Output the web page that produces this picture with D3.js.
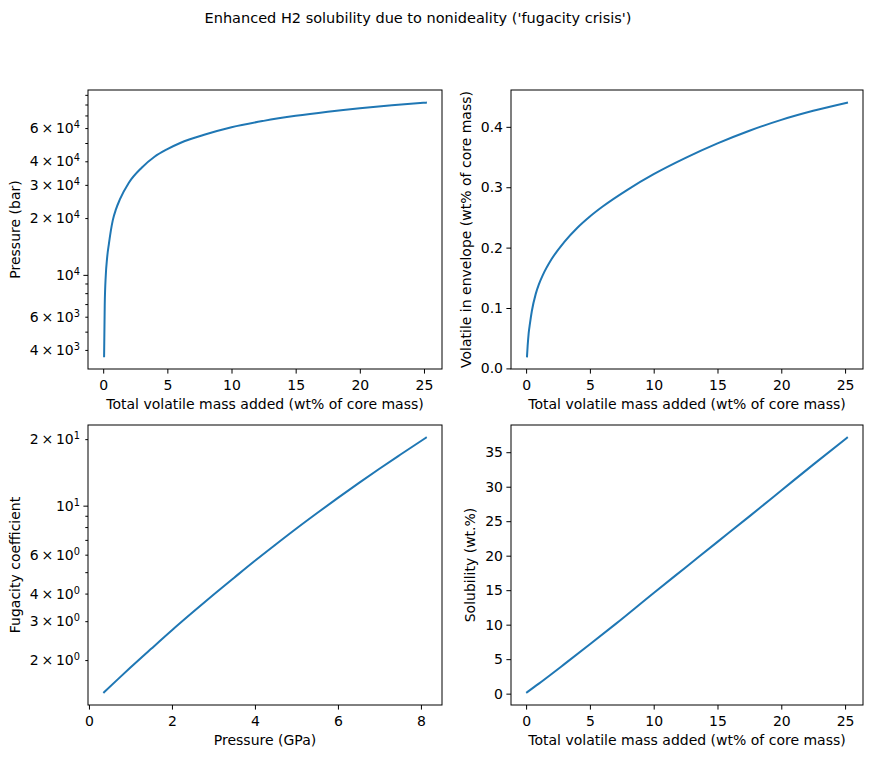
<!DOCTYPE html>
<html>
<head>
<meta charset="utf-8">
<script src="https://cdn.jsdelivr.net/npm/d3@7"></script>
<style>
  html, body { margin: 0; padding: 0; background: #fff; }
  svg { display: block; font-family: "DejaVu Sans", sans-serif; }
</style>
</head>
<body>
<svg id="chart" width="873" height="759"></svg>
<script>
// values
const addedMass = [0.07, 0.12, 0.2, 0.3, 0.45, 0.75, 1, 1.3, 2, 3, 4, 5, 6, 8, 10, 12.5, 15, 17.5, 20, 22.5, 25.15];
const pressureBar = [3700, 6900, 9900, 12200, 14700, 19500, 22300, 25100, 30800, 37000, 42300, 46400, 50000, 55600, 60600, 65500, 69700, 73300, 76500, 79300, 81800];
const envelopeMass = [0.02, 0.037, 0.058, 0.074, 0.095, 0.123, 0.139, 0.154, 0.181, 0.2095, 0.2325, 0.2515, 0.268, 0.2965, 0.3215, 0.3485, 0.3725, 0.3935, 0.4115, 0.4265, 0.44];

const pressureGPa = [0.365, 0.7, 1.0, 1.5, 2.0, 2.5, 3.0, 3.5, 4.0, 4.5, 5.0, 5.5, 6.0, 6.5, 7.0, 7.5, 8.12];
const fugacityCoef = [1.43, 1.64, 1.85, 2.25, 2.73, 3.29, 3.95, 4.72, 5.63, 6.67, 7.88, 9.26, 10.85, 12.65, 14.7, 17.0, 20.3];

const solubilityMass = [0.07, 1, 2, 3, 5, 7, 10, 12.5, 15, 17.5, 20, 22.5, 25.15];
const solubility = [0.2, 1.45, 2.85, 4.28, 7.16, 10.08, 14.6, 18.3, 22.0, 25.7, 29.45, 33.2, 37.1];

const massTicks = [0, 5, 10, 15, 20, 25];
const gpaTicks = [0, 2, 4, 6, 8];
const pressureTicks = [4000, 6000, 10000, 20000, 30000, 40000, 60000];
const envelopeTicks = [0, 0.1, 0.2, 0.3, 0.4];
const fugacityTicks = [2, 3, 4, 6, 10, 20];
const solubilityTicks = [0, 5, 10, 15, 20, 25, 30, 35];

const massLabel = "Total volatile mass added (wt% of core mass)";
const title = "Enhanced H2 solubility due to nonideality ('fugacity crisis')";

const svg = d3.select("#chart");
const fontSize = 14;
const lineColor = "#1f77b4";

const panels = [
  { box: [88, 90, 442, 369], xs: addedMass, ys: pressureBar, logY: true,
    xTicks: massTicks, yTicks: pressureTicks, xLabel: massLabel, yLabel: "Pressure (bar)" },
  { box: [511, 90, 863, 369], xs: addedMass, ys: envelopeMass, logY: false,
    xTicks: massTicks, yTicks: envelopeTicks, xLabel: massLabel, yLabel: "Volatile in envelope (wt% of core mass)", yFmt: d3.format(".1f") },
  { box: [88, 425, 442, 705], xs: pressureGPa, ys: fugacityCoef, logY: true,
    xTicks: gpaTicks, yTicks: fugacityTicks, xLabel: "Pressure (GPa)", yLabel: "Fugacity coefficient" },
  { box: [511, 425, 863, 705], xs: solubilityMass, ys: solubility, logY: false,
    xTicks: massTicks, yTicks: solubilityTicks, xLabel: massLabel, yLabel: "Solubility (wt.%)", yFmt: d3.format("d") },
];

svg.append("text")
  .attr("x", 418).attr("y", 23)
  .attr("text-anchor", "middle")
  .attr("font-size", 14.5)
  .text(title);

panels.forEach(drawPanel);

function paddedExtent(values, log) {
  const [lo, hi] = d3.extent(values);
  if (log) {
    const a = Math.log10(lo), b = Math.log10(hi), m = (b - a) * 0.05;
    return [10 ** (a - m), 10 ** (b + m)];
  }
  const m = (hi - lo) * 0.05;
  return [lo - m, hi + m];
}

// "6 × 10^4" style label, like matplotlib's log formatter
function sciLabel(text, v) {
  const k = Math.floor(Math.log10(v) + 1e-9);
  const m = Math.round(v / 10 ** k);
  text.text(null);
  text.append("tspan").text(m === 1 ? "10" : `${m}\u2009×\u200910`);
  text.append("tspan").attr("dy", "-0.5em").attr("font-size", "0.7em").text(k);
}

function styleAxis(g) {
  g.select(".domain").remove();
  g.selectAll("line").attr("stroke", "#000").attr("stroke-width", 1);
  g.selectAll("text").attr("fill", "#000").attr("font-size", fontSize).attr("font-family", "DejaVu Sans");
}

function drawPanel(p) {
  const [left, top, right, bottom] = p.box;
  const x = d3.scaleLinear().domain(paddedExtent(p.xs, false)).range([left, right]);
  const y = (p.logY ? d3.scaleLog() : d3.scaleLinear())
    .domain(paddedExtent(p.ys, p.logY)).range([bottom, top]);

  const g = svg.append("g");

  g.append("g")
    .attr("transform", `translate(0,${bottom})`)
    .call(d3.axisBottom(x).tickValues(p.xTicks).tickSize(4.6).tickPadding(6.2).tickFormat(d3.format("d")))
    .call(styleAxis);

  const yGroup = g.append("g").attr("transform", `translate(${left},0)`);
  if (p.logY) {
    const [lo, hi] = y.domain();
    const decades = [], minors = [];
    for (let k = Math.floor(Math.log10(lo)); k <= Math.ceil(Math.log10(hi)); k++) {
      if (10 ** k >= lo && 10 ** k <= hi) decades.push(10 ** k);
      for (let m = 2; m <= 9; m++) {
        const v = m * 10 ** k;
        if (v >= lo && v <= hi) minors.push(v);
      }
    }
    const major = yGroup.append("g")
      .call(d3.axisLeft(y).tickValues(decades).tickSize(4.6).tickPadding(3.4))
      .call(styleAxis);
    major.selectAll("text").each(function (d) { sciLabel(d3.select(this), d); });
    const minor = yGroup.append("g")
      .call(d3.axisLeft(y).tickValues(minors).tickSize(2.7).tickPadding(5.3))
      .call(styleAxis);
    minor.selectAll("text").each(function (d) {
      if (p.yTicks.some((t) => Math.abs(t - d) < 1e-9 * t)) sciLabel(d3.select(this), d);
      else d3.select(this).text(null);
    });
  } else {
    yGroup.call(d3.axisLeft(y).tickValues(p.yTicks).tickSize(4.6).tickPadding(3.4).tickFormat(p.yFmt))
      .call(styleAxis);
  }

  g.append("path")
    .datum(p.xs.map((v, i) => [v, p.ys[i]]))
    .attr("fill", "none")
    .attr("stroke", lineColor)
    .attr("stroke-width", 2)
    .attr("stroke-linejoin", "round")
    .attr("stroke-linecap", "square")
    .attr("d", d3.line().x((d) => x(d[0])).y((d) => y(d[1])).curve(d3.curveMonotoneX));

  g.append("rect")
    .attr("x", left).attr("y", top)
    .attr("width", right - left).attr("height", bottom - top)
    .attr("fill", "none").attr("stroke", "#000").attr("stroke-width", 1);

  g.append("text")
    .attr("x", (left + right) / 2).attr("y", bottom + 39.5)
    .attr("text-anchor", "middle").attr("font-size", fontSize)
    .text(p.xLabel);

  const tickLeft = yGroup.node().getBBox().x + left;
  g.append("text")
    .attr("transform", `translate(${tickLeft - 10},${(top + bottom) / 2}) rotate(-90)`)
    .attr("text-anchor", "middle").attr("font-size", fontSize)
    .text(p.yLabel);
}
</script>
</body>
</html>
